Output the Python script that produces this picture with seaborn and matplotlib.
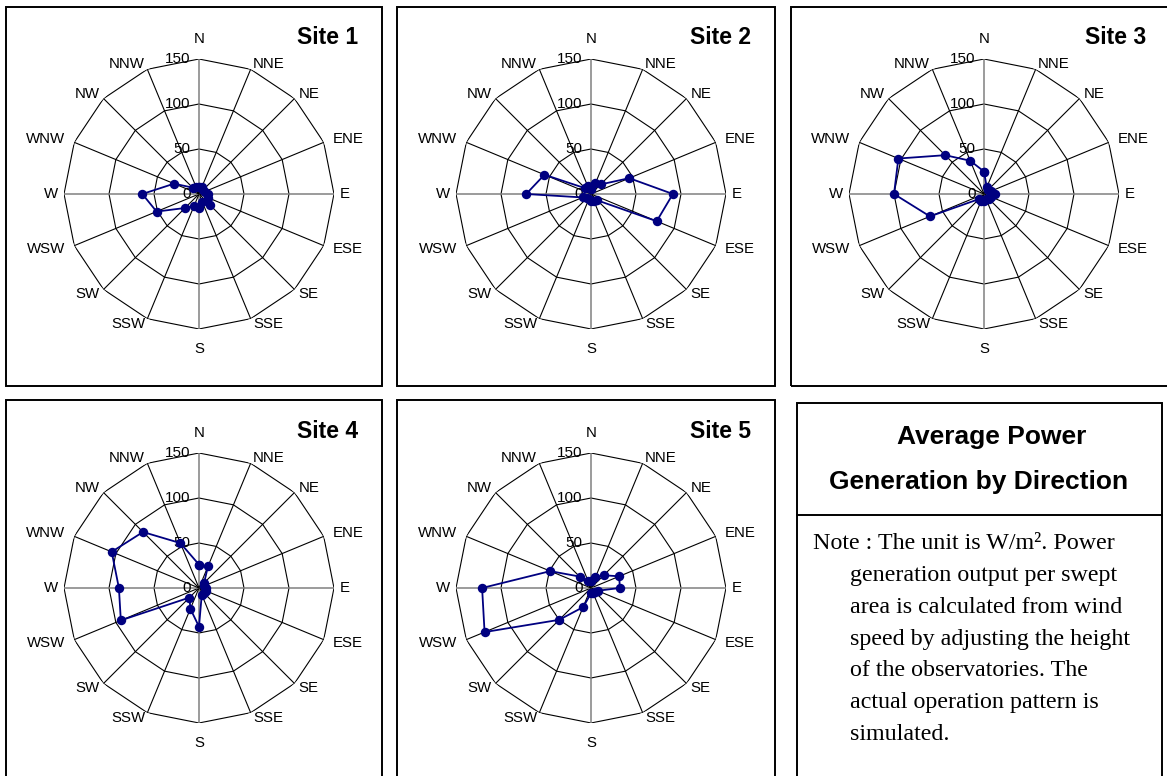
import numpy as np
import pandas as pd
import matplotlib
matplotlib.use("Agg")
import matplotlib.pyplot as plt
import seaborn as sns
from matplotlib.patches import Rectangle

# ---------------- data ----------------
directions = ["N", "NNE", "NE", "ENE", "E", "ESE", "SE", "SSE",
              "S", "SSW", "SW", "WSW", "W", "WNW", "NW", "NNW"]
site1 = [8, 8, 7, 7, 10, 11, 18, 10, 16, 14, 22, 51, 63, 30, 10, 8]
site2 = [6, 13, 15, 46, 91, 79, 10, 8, 8, 6, 7, 10, 72, 56, 9, 10]
site3 = [25, 8, 6, 8, 12, 8, 8, 6, 8, 8, 8, 65, 100, 103, 61, 40]
site4 = [26, 26, 8, 6, 8, 8, 8, 8, 43, 25, 15, 94, 89, 105, 88, 54]
site5 = [8, 13, 20, 34, 32, 8, 6, 6, 6, 23, 50, 128, 121, 49, 18, 8]
site_names = ["Site 1", "Site 2", "Site 3", "Site 4", "Site 5"]
radial_ticks = [0, 50, 100, 150]
title_lines = ["Average Power", "Generation by Direction"]
note_lines = ["Note : The unit is W/m\u00b2. Power",
              "generation output per swept",
              "area is calculated from wind",
              "speed by adjusting the height",
              "of the observatories. The",
              "actual operation pattern is",
              "simulated."]

# ---------------- style ----------------
sns.set_style("white")
plt.rcParams["font.family"] = ["Liberation Sans", "DejaVu Sans"]

W, H = 1167, 776
fig = plt.figure(figsize=(W / 100, H / 100), dpi=100)
fig.patch.set_facecolor("white")
PT = 72 / 100  # points per pixel


def fx(x):
    return x / W


def fy(y):
    return 1 - y / H


def box(x0, y0, x1, y1):
    fig.add_artist(Rectangle((fx(x0), fy(y1)), fx(x1) - fx(x0), fy(y0) - fy(y1),
                             transform=fig.transFigure, fill=False,
                             ec="black", lw=1.4, zorder=0))


boxes = [(6, 7, 382, 386), (397, 7, 775, 386), (791, 7, 1170, 386),
         (6, 400, 382, 790), (397, 400, 775, 790)]
centers = [(199, 194), (591, 194), (984, 194), (199, 588), (591, 588)]
R = 135  # pixel radius of the 150 ring

data_all = [site1, site2, site3, site4, site5]
n = len(directions)
theta = np.arange(n) * 2 * np.pi / n
theta_closed = np.append(theta, 2 * np.pi)

for k in range(5):
    bx0, by0, bx1, by1 = boxes[k]
    box(bx0, by0, bx1, by1)
    cx, cy = centers[k]
    ax = fig.add_axes([fx(cx - R), fy(cy + R), 2 * R / W, 2 * R / H],
                      projection="polar")
    ax.set_theta_zero_location("N")
    ax.set_theta_direction(-1)
    ax.set_ylim(0, 150)
    ax.grid(False)
    ax.set_xticks([])
    ax.set_yticks([])
    ax.spines["polar"].set_visible(False)
    ax.patch.set_alpha(0)

    # polygon rings
    for r in radial_ticks[1:]:
        ax.plot(theta_closed, [r] * (n + 1), color="black", lw=0.8, zorder=1)
    # spokes
    for i, t in enumerate(theta):
        col = "#808080" if i % 4 == 0 else "black"
        lw = 1.1 if i % 4 == 0 else 0.8
        ax.plot([t, t], [0, 150], color=col, lw=lw, zorder=1)

    vals = data_all[k]
    df = pd.DataFrame({"theta": theta_closed, "value": vals + [vals[0]]})
    sns.lineplot(data=df, x="theta", y="value", sort=False, estimator=None,
                 color="#000080", lw=1.3, marker="o", markersize=6.8,
                 markeredgewidth=0, ax=ax, zorder=3)
    ax.set_xlabel("")
    ax.set_ylabel("")

    # radial tick labels
    for v in radial_ticks:
        ax.annotate(str(v), xy=(0, v), xytext=(-6, 0), textcoords="offset points",
                    ha="right", va="center", fontsize=11, color="black",
                    annotation_clip=False, zorder=2)
    # direction labels (Excel-like placement just outside each vertex)
    for i, (t, d) in enumerate(zip(theta, directions)):
        s, c = np.sin(t), np.cos(t)
        if abs(s) < 0.1:
            ha = "center"
            va = "bottom" if c > 0 else "top"
            dist = 13
        else:
            ha = "left" if s > 0 else "right"
            va = "center"
            dist = 10 if i % 4 in (1, 3) and abs(c) < 0.5 else 6
        ax.annotate(d, xy=(t, 150), xytext=(dist * s * PT, dist * c * PT),
                    textcoords="offset points", ha=ha, va=va, fontsize=10.8,
                    color="black", annotation_clip=False)

    # site title
    fig.text(fx(bx1 - 24), fy(by0 + 31), site_names[k], ha="right",
             va="center", fontsize=16.5, fontweight="bold", color="black")

# ---------------- text panel ----------------
box(797, 403, 1162, 790)
fig.add_artist(plt.Line2D([fx(797), fx(1162)], [fy(515), fy(515)],
                          transform=fig.transFigure, color="black", lw=1.4))
for x, y, line in zip([992, 979], [444, 489], title_lines):
    fig.text(fx(x), fy(y), line, ha="center", va="baseline",
             fontsize=19, fontweight="bold", color="black")

note_y = [549, 581, 613, 645, 676, 708, 740]
for i, (y, line) in enumerate(zip(note_y, note_lines)):
    x = 813 if i == 0 else 850
    fig.text(fx(x), fy(y), line, ha="left", va="baseline", fontsize=17.3,
             family=["Liberation Serif", "DejaVu Serif"], color="black")

fig.savefig("out.png", dpi=100, facecolor="white")
